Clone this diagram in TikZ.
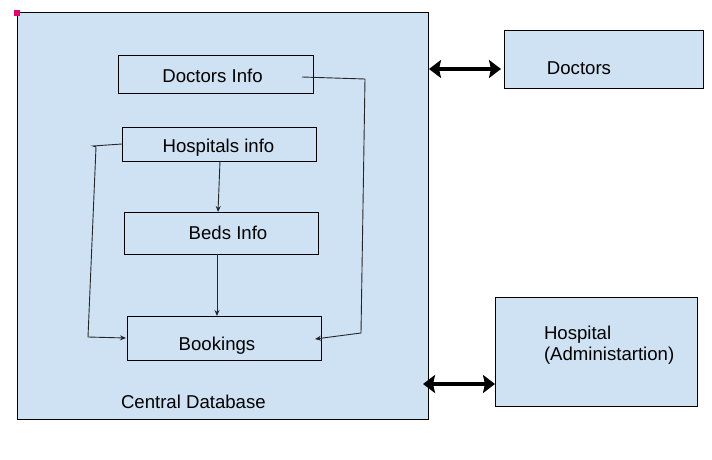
\documentclass[tikz,border=0pt]{standalone}
\usepackage{fontspec}
\setmainfont{Liberation Sans}
\usetikzlibrary{arrows.meta,calc}
\definecolor{boxblue}{HTML}{CFE2F3}
\definecolor{pinkdot}{HTML}{E8006A}
\begin{document}
\begin{tikzpicture}[x=1pt,y=-1pt,
  every node/.style={font=\fontsize{18.6}{21.5}\selectfont, inner sep=0pt, outer sep=0pt},
  box/.style={draw=black, line width=0.9pt, fill=boxblue, rectangle},
  conn/.style={draw=black!85, line width=0.9pt},
  tip/.style={-{Stealth[length=6pt,width=5pt]}},
  bigarrow/.style={draw=black, line width=3.2pt, {Stealth[length=12pt,width=18pt,inset=2pt]}-{Stealth[length=12pt,width=18pt,inset=2pt]}}
]
\useasboundingbox (0,0) rectangle (712,460);
% central database
\node[box, minimum width=411pt, minimum height=407pt, anchor=north west] (cdb) at (17,12) {};
\fill[pinkdot] (14,10) rectangle (20,16);
\node[anchor=base west] (cdbl) at (121,408) {Central Database};

% inner boxes
\node[box, minimum width=195pt, minimum height=38pt] (dinfo) at (215.5,74) {};
\node (dinfol) at (212.5,76) {Doctors Info};
\node[box, minimum width=194pt, minimum height=34pt] (hinfo) at (219,144) {};
\node (hinfol) at (218.5,148) {Hospitals info};
\node[box, minimum width=194pt, minimum height=42pt] (beds) at (221,233) {};
\node (bedsl) at (228,233) {Beds Info};
\node[box, minimum width=194pt, minimum height=44pt] (book) at (224,338) {};
\node (bookl) at (217,346) {Bookings};

% outer boxes
\node[box, minimum width=199pt, minimum height=58pt] (doc) at (603.5,59) {};
\node (docl) at (579,68) {Doctors};
\node[box, minimum width=202pt, minimum height=109pt] (hosp) at (596,351.5) {};
\node[align=left, anchor=north west] (hospl) at (544,326) {Hospital\\(Administartion)};

% connectors
\coordinate (c1) at (365,79);
\coordinate (c2) at (361,333);
\draw[conn, tip] ($(dinfo.east)+(-11,3)$) -- (c1) -- (c2) -- ($(book.east)+(-6,1)$);
\coordinate (c3) at (93,146);
\coordinate (c4) at (88,337);
\draw[conn, tip] (hinfo.west) -- (c3) -- (96,147) -- (c4) -- ($(book.west)+(-1,0)$);
\draw[conn, tip] ($(hinfo.south)+(1,0)$) -- ($(beds.north)+(-3,0)$);
\draw[conn, tip] ($(beds.south)+(-4,0)$) -- ($(book.north)+(-7,0)$);

% thick bidirectional arrows
\coordinate (a1) at (429,69);
\coordinate (a2) at (501,69);
\coordinate (a3) at (423,384);
\coordinate (a4) at (495,384);
\draw[bigarrow] (a1) -- (a2);
\draw[bigarrow] (a3) -- (a4);
\end{tikzpicture}
\end{document}
